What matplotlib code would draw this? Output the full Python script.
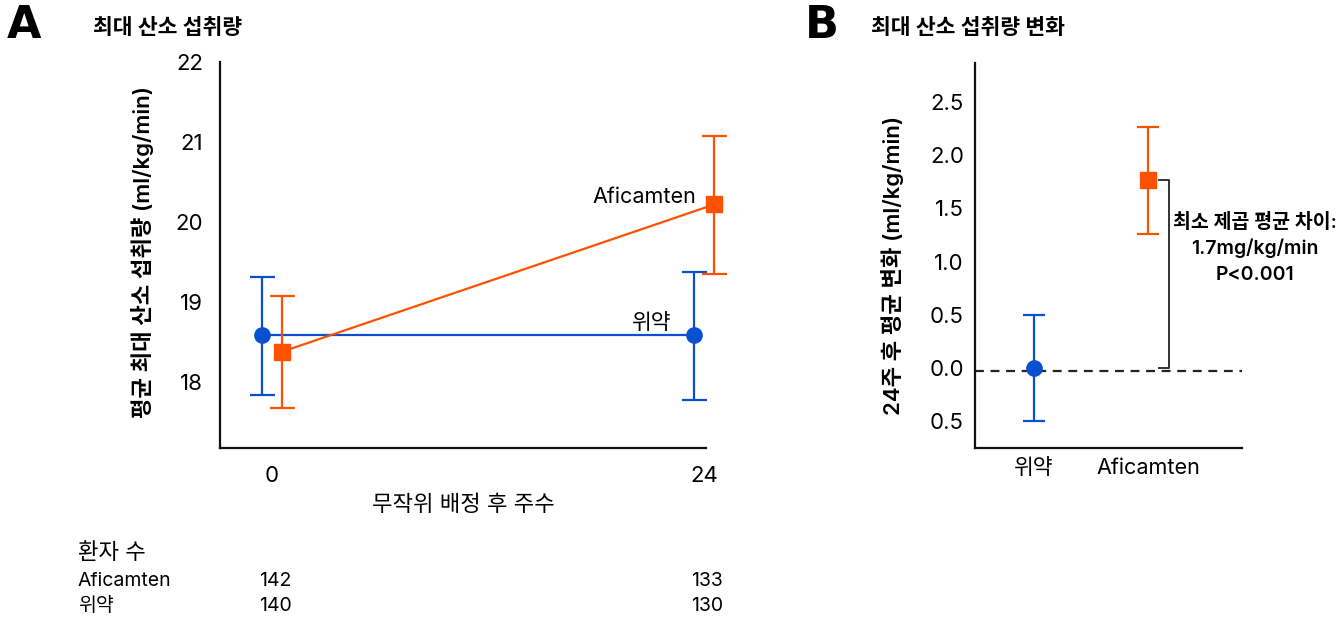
import numpy as np
import matplotlib
matplotlib.use("Agg")
import matplotlib.pyplot as plt
from matplotlib.transforms import blended_transform_factory

plt.rcParams['font.family'] = ['Inter', 'Noto Sans CJK KR', 'DejaVu Sans']

BLUE = '#0a4fd0'
ORANGE = '#fc5200'

# panel A: mean peak VO2 at week 0 and 24
weeks = [0, 24]
placebo_mean = [18.59, 18.59]
placebo_lo = [17.84, 17.78]
placebo_hi = [19.31, 19.37]
afic_mean = [18.38, 20.22]
afic_lo = [17.68, 19.35]
afic_hi = [19.08, 21.08]

# patients at risk
n_afic = [142, 133]
n_placebo = [140, 130]

# panel B: change from baseline at week 24
groups = ['위약', 'Aficamten']
change_mean = [0.0, 1.77]
change_lo = [-0.50, 1.26]
change_hi = [0.50, 2.27]
b_ticks = [2.5, 2.0, 1.5, 1.0, 0.5, 0.0, -0.5]
b_ticklabels = ['2.5', '2.0', '1.5', '1.0', '0.5', '0.0', '0.5']
note_lines = ['최소 제곱 평균 차이:', '1.7mg/kg/min', 'P<0.001']

W, H = 1343, 619
fig = plt.figure(figsize=(W / 100, H / 100), dpi=100)


def px(x, y):
    return x / W, 1 - y / H


def style_axes(ax):
    for s in ['top', 'right']:
        ax.spines[s].set_visible(False)
    for s in ['left', 'bottom']:
        ax.spines[s].set_linewidth(1.6)
        ax.spines[s].set_color('#111111')
    ax.tick_params(length=0, labelsize=16)


# ---- panel A
axA = fig.add_axes([220 / W, 1 - 448 / H, 486 / W, 386 / H])
style_axes(axA)
off = 0.58
x = np.array(weeks, dtype=float)
pm = np.array(placebo_mean)
am = np.array(afic_mean)
axA.errorbar(x - off, pm, yerr=[pm - placebo_lo, np.array(placebo_hi) - pm],
             fmt='-o', color=BLUE, ms=11, lw=1.6, elinewidth=1.6,
             capsize=9, capthick=1.6, clip_on=False, zorder=3)
axA.errorbar(x + off, am, yerr=[am - afic_lo, np.array(afic_hi) - am],
             fmt='-s', color=ORANGE, ms=11.5, lw=1.6, elinewidth=1.6,
             capsize=9, capthick=1.6, clip_on=False, zorder=4)
axA.set_xlim(-2.89, 24.11)
axA.set_ylim(17.175, 22)
axA.set_yticks([18, 19, 20, 21, 22])
axA.set_xticks(weeks)
axA.tick_params(axis='y', pad=12)
axA.tick_params(axis='x', pad=13)
axA.text(23.6, 20.31, 'Aficamten', ha='right', va='center', fontsize=15.5)
axA.text(22.2, 18.74, '위약', ha='right', va='center', fontsize=15.5)

fig.text(*px(7, 26), 'A', fontsize=32, fontweight='heavy', family='DejaVu Sans',
         ha='left', va='center')
fig.text(*px(93, 28), '최대 산소 섭취량', fontsize=15.5, fontweight='semibold',
         ha='left', va='center')
fig.text(*px(143, 252), '평균 최대 산소 섭취량 (ml/kg/min)', rotation=90,
         fontsize=16, fontweight='semibold', ha='center', va='center')
fig.text(*px(463, 505), '무작위 배정 후 주수', fontsize=16,
         ha='center', va='center')

# patients at risk table
fig.text(*px(78, 553), '환자 수', fontsize=16, ha='left', va='center')
fig.text(*px(78, 581), 'Aficamten', fontsize=14, ha='left', va='center')
fig.text(*px(78, 606), '위약', fontsize=14, ha='left', va='center')
tr = blended_transform_factory(axA.transData, fig.transFigure)
for wk, na, npl in zip(weeks, n_afic, n_placebo):
    axA.text(wk + 0.17, 1 - 581 / H, str(na), transform=tr, fontsize=14,
             ha='center', va='center')
    axA.text(wk + 0.17, 1 - 606 / H, str(npl), transform=tr, fontsize=14,
             ha='center', va='center')

# ---- panel B
axB = fig.add_axes([975 / W, 1 - 448 / H, 267 / W, 385 / H])
style_axes(axB)
gx = np.arange(len(groups))
cm = np.array(change_mean)
axB.axhline(-0.03, color='#222222', lw=1.6, ls=(0, (4, 3)), zorder=1)
axB.errorbar(gx[0], cm[0], yerr=[[cm[0] - change_lo[0]], [change_hi[0] - cm[0]]],
             fmt='o', color=BLUE, ms=11, elinewidth=1.6, capsize=8,
             capthick=1.6, zorder=3)
axB.errorbar(gx[1], cm[1], yerr=[[cm[1] - change_lo[1]], [change_hi[1] - cm[1]]],
             fmt='s', color=ORANGE, ms=11.5, elinewidth=1.6, capsize=8,
             capthick=1.6, zorder=3)
axB.set_xlim(-0.512, 1.818)
axB.set_ylim(-0.752, 2.867)
axB.set_xticks(gx)
axB.set_xticklabels(groups, fontsize=15.5)
axB.set_yticks(b_ticks)
axB.set_yticklabels(b_ticklabels)
axB.tick_params(axis='y', pad=8)
axB.tick_params(axis='x', pad=7)

# bracket for difference
bx0, bx1 = 1.094, 1.18
axB.plot([bx0, bx1, bx1, bx0], [cm[1], cm[1], 0, 0], color='#333333',
         lw=1.4, clip_on=False)
for i, line in enumerate(note_lines):
    fig.text(*px(1255, 222 + 26.5 * i), line, fontsize=14, fontweight='semibold',
             ha='center', va='center')

fig.text(*px(805, 25), 'B', fontsize=32, fontweight='heavy', family='DejaVu Sans',
         ha='left', va='center')
fig.text(*px(871, 28), '최대 산소 섭취량 변화', fontsize=15.5, fontweight='semibold',
         ha='left', va='center')
fig.text(*px(893, 265), '24주 후 평균 변화 (ml/kg/min)', rotation=90,
         fontsize=16, fontweight='semibold', ha='center', va='center')

fig.savefig('out.png', dpi=100)
